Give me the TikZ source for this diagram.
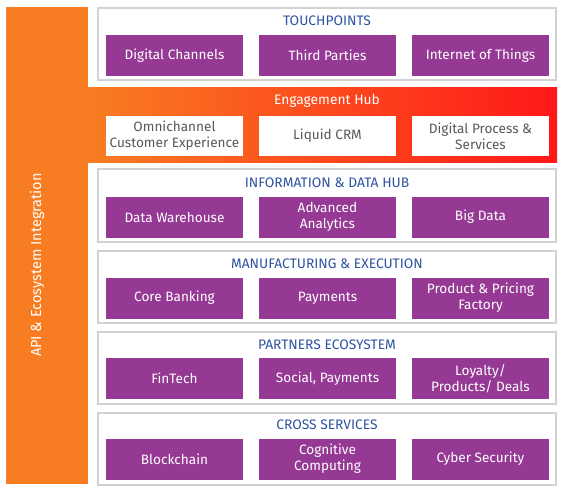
\documentclass[tikz,border=0pt]{standalone}
\usepackage{fontspec}
\setmainfont{Fira Sans}
\definecolor{apiorange}{RGB}{248,125,34}
\definecolor{hubred}{RGB}{255,24,24}
\definecolor{tilepurple}{RGB}{149,57,148}
\definecolor{titleblue}{RGB}{46,84,160}
\definecolor{framegray}{RGB}{210,210,210}
\definecolor{hubtext}{RGB}{88,88,88}
\tikzset{
	layer/.style={draw=framegray, line width=2pt, fill=white, minimum width=458pt, minimum height=72pt, inner sep=0pt},
	layertitle/.style={text=titleblue, font=\fontsize{13.8}{16}\selectfont, inner sep=0pt},
	tile/.style={fill=tilepurple, text=white, minimum width=137pt, minimum height=41pt, inner sep=0pt, align=center, font=\fontsize{13.6}{16}\selectfont},
	hubtile/.style={tile, fill=white, text=hubtext, minimum height=40pt},
}

\begin{document}
\begin{tikzpicture}[x=1pt, y=-1pt]
			%%%%% START %%%%%
			\useasboundingbox (0, 0) rectangle (565, 492);
			
			% api bar and engagement hub strip
			\fill[apiorange] (6, 7) rectangle (88, 484);
			\shade[left color=apiorange, right color=hubred] (88, 88) rectangle (557, 163);
			\node[rotate=90, text=white, font=\fontsize{14.5}{16}\selectfont] (api) at (37, 265) {API \& Ecosystem Integration};
			
			% touchpoints
			\node[layer] (touch) at (327, 44) {};
			\node[layertitle] (touchtitle) at (327, 21) {TOUCHPOINTS};
			\node[tile] (digital) at (174.5, 55.5) {Digital Channels};
			\node[tile] (third) at (327.5, 55.5) {Third Parties};
			\node[tile] (iot) at (480.5, 55.5) {Internet of Things};
			
			% engagement hub
			\node[layertitle, text=white] (hubtitle) at (327, 101) {Engagement Hub};
			\node[hubtile] (omni) at (174.5, 136) {Omnichannel\\Customer Experience};
			\node[hubtile] (crm) at (327.5, 136) {Liquid CRM};
			\node[hubtile] (process) at (480.5, 136) {Digital Process \&\\Services};
			
			% information & data hub
			\node[layer] (info) at (327, 205.5) {};
			\node[layertitle] (infotitle) at (327, 183) {INFORMATION \& DATA HUB};
			\node[tile] (warehouse) at (174.5, 217) {Data Warehouse};
			\node[tile] (analytics) at (327.5, 217) {Advanced\\Analytics};
			\node[tile] (bigdata) at (480.5, 217) {Big Data};
			
			% manufacturing & execution
			\node[layer] (manu) at (327, 286.5) {};
			\node[layertitle] (manutitle) at (327, 264) {MANUFACTURING \& EXECUTION};
			\node[tile] (banking) at (174.5, 298) {Core Banking};
			\node[tile] (payments) at (327.5, 298) {Payments};
			\node[tile] (factory) at (480.5, 298) {Product \& Pricing\\Factory};
			
			% partners ecosystem
			\node[layer] (partners) at (327, 367.5) {};
			\node[layertitle] (partnerstitle) at (327, 344.5) {PARTNERS ECOSYSTEM};
			\node[tile] (fintech) at (174.5, 378.5) {FinTech};
			\node[tile] (social) at (327.5, 378.5) {Social, Payments};
			\node[tile] (loyalty) at (480.5, 378.5) {Loyalty/\\Products/ Deals};
			
			% cross services
			\node[layer] (cross) at (327, 448.5) {};
			\node[layertitle] (crosstitle) at (327, 425) {CROSS SERVICES};
			\node[tile] (blockchain) at (174.5, 459) {Blockchain};
			\node[tile] (cognitive) at (327.5, 459) {Cognitive\\Computing};
			\node[tile] (cyber) at (480.5, 459) {Cyber Security};
			
			%%%%% END %%%%%
\end{tikzpicture}
\end{document}
